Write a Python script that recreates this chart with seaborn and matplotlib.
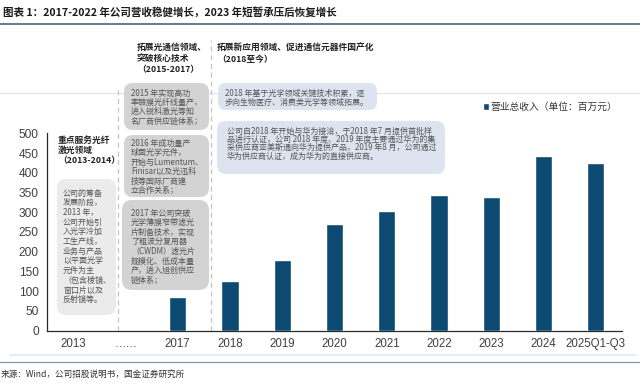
import numpy as np
import pandas as pd
import matplotlib
matplotlib.use("Agg")
import matplotlib.pyplot as plt
from matplotlib.patches import FancyBboxPatch
from matplotlib.lines import Line2D
import seaborn as sns

# ---------------- data ----------------
categories = ["2013", "……", "2017", "2018", "2019", "2020", "2021",
              "2022", "2023", "2024", "2025Q1-Q3"]
revenue = [np.nan, np.nan, 85, 127, 179, 270, 302, 344, 339, 443, 424]
series_name = "营业总收入（单位：百万元）"
y_ticks = [0, 50, 100, 150, 200, 250, 300, 350, 400, 450, 500]

title = "图表 1：2017-2022 年公司营收稳健增长，2023 年短暂承压后恢复增长"
source = "来源：Wind，公司招股说明书，国金证券研究所"

stage1_head = ["重点服务光纤", "激光领域", "（2013-2014）"]
stage1_box = ["公司的筹备", "发展阶段，", "2013 年，", "公司开始引", "入光学冷加",
              "工生产线，", "业务与产品", "以平面光学", "元件为主",
              "（包含棱镜、", "窗口片以及", "反射镜等。"]
stage2_head = ["拓展光通信领域、", "突破核心技术", "（2015-2017）"]
stage2_box_a = ["2015 年实现高功", "率镀膜光纤线量产，", "进入锐科激光等知", "名厂商供应链体系；"]
stage2_box_b = ["2016 年成功量产", "球面光学元件，", "开始与Lumentum、", "Finisar以及光迅科",
                "技等国际厂商建", "立合作关系；"]
stage2_box_c = ["2017 年公司突破", "光学薄膜窄带滤光", "片制备技术，实现", "了粗波分复用器",
                "（CWDM）滤光片", "规模化、低成本量", "产，进入旭创供应", "链体系；"]
stage3_head = ["拓展新应用领域、促进通信元器件国产化", "（2018至今）"]
stage3_box_d = ["2018 年基于光学领域关键技术积累，逐", "步向生物医疗、消费类光学等领域拓展。"]
stage3_box_e = ["公司自2018 年开始与华为接洽，于2018 年7 月提供首批样",
                "品进行认证，公司 2018 年度、2019 年度主要通过华为的集",
                "采供应商亚美斯通向华为提供产品，2019 年8 月，公司通过",
                "华为供应商认证，成为华为的直接供应商。"]
stage_bounds = [0.86, 2.64]

df = pd.DataFrame({"period": categories, "revenue": revenue})

# ---------------- style ----------------
sns.set_style("white")
plt.rcParams["font.family"] = ["Noto Sans CJK SC", "DejaVu Sans"]

W, H = 640, 387
fig = plt.figure(figsize=(W / 100, H / 100), dpi=100)

def fx(x):
    return x / W

def fy(y):
    return 1 - y / H

ax = fig.add_axes([fx(47), fy(330.7), fx(622) - fx(47), fy(133.3) - fy(330.7)])

BAR = "#0d4a71"
sns.barplot(data=df, x="period", y="revenue", order=categories, color=BAR,
            width=0.33, saturation=1, ax=ax, label=series_name, zorder=3)

ax.set_xlim(-0.5, len(categories) - 0.5)
ax.set_ylim(0, 500)
ax.set_yticks(y_ticks)
ax.set_xlabel("")
ax.set_ylabel("")
for s in ["top", "right"]:
    ax.spines[s].set_visible(False)
for s in ["left", "bottom"]:
    ax.spines[s].set_color("#2a2a2a")
    ax.spines[s].set_linewidth(0.9)
ax.set_xticks(np.arange(len(categories)))
ax.set_xticklabels(categories)
ax.set_xticks(np.arange(len(categories) + 1) - 0.5, minor=True)
ax.tick_params(axis="x", which="major", length=0, pad=5, labelsize=8.3, labelcolor="#404040")
ax.tick_params(axis="x", which="minor", length=3, direction="out", color="#2a2a2a", width=0.8)
ax.tick_params(axis="y", length=3, direction="out", color="#2a2a2a", width=0.8,
               labelsize=8.6, labelcolor="#404040", pad=3)
for lab in ax.get_xticklabels() + ax.get_yticklabels():
    lab.set_fontfamily(["Liberation Sans", "Noto Sans CJK SC"])
ax.patch.set_alpha(0)

# stage boundaries (dashed)
top_val = 500 * (330.7 - 40) / (330.7 - 133.3)
mid_val = 500 * (330.7 - 88) / (330.7 - 133.3)
ax.plot([stage_bounds[0]] * 2, [0, mid_val], ls=(0, (4, 3)), color="#c4c4c4", lw=0.9,
        clip_on=False, zorder=1)
ax.plot([stage_bounds[1]] * 2, [0, top_val], ls=(0, (4, 3)), color="#c4c4c4", lw=0.9,
        clip_on=False, zorder=1)

# legend
leg = ax.legend(loc="center left", bbox_to_anchor=(fx(483), fy(107)),
                bbox_transform=fig.transFigure, frameon=False, fontsize=7,
                handlelength=0.6, handleheight=0.6, handletextpad=0.2,
                borderpad=0, borderaxespad=0)
for t in leg.get_texts():
    t.set_color("#333333")

# ---------------- decorations ----------------
def hline(y, x0, x1, color, lw):
    fig.add_artist(Line2D([fx(x0), fx(x1)], [fy(y), fy(y)], color=color, lw=lw,
                          transform=fig.transFigure, zorder=0))

hline(24, 0, 640, "#5d6f80", 1.3)
hline(93, 0, 640, "#e4e4e4", 0.9)
hline(355, 10, 636, "#e8e8e8", 1.2)
hline(362, 0, 640, "#8197aa", 0.9)

def rbox(x0, y0, x1, y1, fc, r=8):
    p = FancyBboxPatch((x0 / 100, (H - y1) / 100), (x1 - x0) / 100, (y1 - y0) / 100,
                       boxstyle=f"round,pad=0,rounding_size={r / 100}",
                       transform=fig.dpi_scale_trans, fc=fc, ec="none", zorder=2)
    fig.add_artist(p)

def lines(txt, x, y0, dy, size, color="#555555", weight="normal", ha="left"):
    for i, t in enumerate(txt):
        fig.text(fx(x), fy(y0 + i * dy), t, fontsize=size, color=color,
                 fontweight=weight, ha=ha, va="center", zorder=5)

fig.text(fx(3), fy(12.5), title, fontsize=7.6, fontweight="bold", color="#1a1a1a",
         ha="left", va="center")
fig.text(fx(1), fy(374.5), source, fontsize=6.2, color="#333333", ha="left", va="center")

TXT = 5.75
# stage 1
lines(stage1_head, 58, 140, 10.3, 6.3, color="#222222", weight="bold")
rbox(57, 179, 116, 315, "#ebebeb", r=9)
lines(stage1_box, 63, 193, 9.7, TXT)

# stage 2
lines(stage2_head, 137, 47.5, 11, 6.3, color="#222222", weight="bold")
GRAY = "#d3d3d3"
rbox(124, 83, 209, 130, GRAY, r=9)
lines(stage2_box_a, 131, 93, 9.3, TXT)
rbox(124, 135, 209, 197, GRAY, r=9)
lines(stage2_box_b, 131, 143, 9.6, TXT)
rbox(122, 200, 209, 290, GRAY, r=10)
lines(stage2_box_c, 131, 213, 9.6, TXT)

# stage 3
lines(stage3_head, 217, 48, 12, 6.3, color="#222222", weight="bold")
BLUE = "#dde4ef"
rbox(218, 83, 377, 110, BLUE, r=8)
lines(stage3_box_d, 225, 93, 9.0, TXT)
rbox(217, 121, 445, 174, BLUE, r=9)
lines(stage3_box_e, 227, 131, 8.3, TXT)

fig.savefig("out.png", dpi=100)
